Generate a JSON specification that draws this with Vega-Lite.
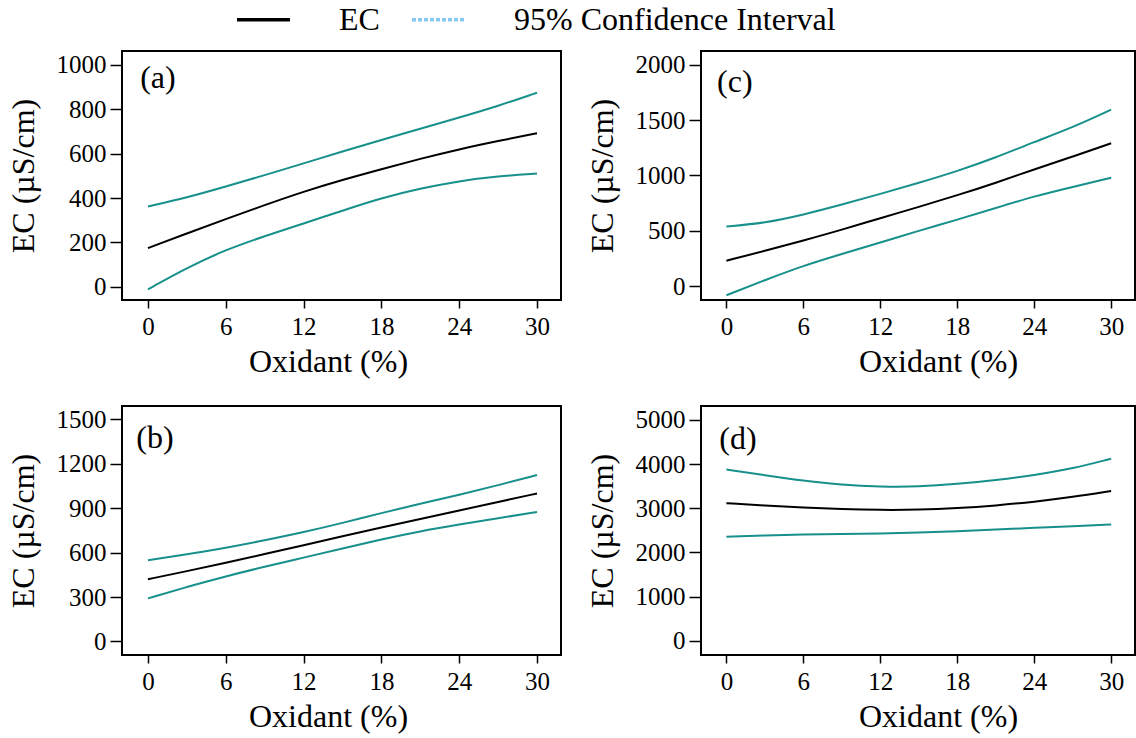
{
  "$schema": "https://vega.github.io/schema/vega-lite/v6.json",
  "background": "white",
  "padding": {"left": 6, "top": -9, "right": 2, "bottom": 2},
  "config": {
    "font": "Liberation Serif",
    "view": {"stroke": "black", "strokeWidth": 2},
    "axis": {
      "domain": false, "grid": false,
      "tickColor": "black", "tickWidth": 1.5,
      "labelFont": "Liberation Serif", "labelFontSize": 25, "labelColor": "black",
      "titleFont": "Liberation Serif", "titleFontSize": 32, "titleFontWeight": "normal", "titleColor": "black"
    },
    "axisX": {"tickSize": 8, "labelPadding": 6, "titlePadding": 7},
    "axisY": {"tickSize": 12, "labelPadding": 4, "titlePadding": 16, "format": "d"},
    "legend": {"labelFont": "Liberation Serif", "labelFontSize": 32, "labelColor": "black", "labelLimit": 600}
  },
  "datasets": {
    "a": [
      {"x": 0, "EC": 174, "lower": -12, "upper": 362},
      {"x": 3, "EC": 240, "lower": 85, "upper": 402},
      {"x": 6, "EC": 305, "lower": 167, "upper": 452},
      {"x": 9, "EC": 368, "lower": 228, "upper": 503},
      {"x": 12, "EC": 429, "lower": 285, "upper": 556},
      {"x": 15, "EC": 482, "lower": 343, "upper": 610},
      {"x": 18, "EC": 530, "lower": 400, "upper": 662},
      {"x": 21, "EC": 577, "lower": 443, "upper": 712},
      {"x": 24, "EC": 620, "lower": 477, "upper": 763},
      {"x": 27, "EC": 657, "lower": 498, "upper": 815},
      {"x": 30, "EC": 692, "lower": 510, "upper": 875}
    ],
    "b": [
      {"x": 0, "EC": 420, "lower": 291, "upper": 549},
      {"x": 3, "EC": 475, "lower": 368, "upper": 588},
      {"x": 6, "EC": 530, "lower": 440, "upper": 632},
      {"x": 9, "EC": 590, "lower": 505, "upper": 683},
      {"x": 12, "EC": 650, "lower": 566, "upper": 738},
      {"x": 15, "EC": 710, "lower": 628, "upper": 800},
      {"x": 18, "EC": 770, "lower": 690, "upper": 868},
      {"x": 21, "EC": 828, "lower": 745, "upper": 930},
      {"x": 24, "EC": 885, "lower": 790, "upper": 991},
      {"x": 27, "EC": 942, "lower": 833, "upper": 1055},
      {"x": 30, "EC": 1000, "lower": 874, "upper": 1125}
    ],
    "c": [
      {"x": 0, "EC": 230, "lower": -82, "upper": 539},
      {"x": 3, "EC": 318, "lower": 55, "upper": 570},
      {"x": 6, "EC": 412, "lower": 185, "upper": 645},
      {"x": 9, "EC": 509, "lower": 291, "upper": 736},
      {"x": 12, "EC": 615, "lower": 394, "upper": 833},
      {"x": 15, "EC": 715, "lower": 500, "upper": 933},
      {"x": 18, "EC": 821, "lower": 600, "upper": 1039},
      {"x": 21, "EC": 933, "lower": 706, "upper": 1161},
      {"x": 24, "EC": 1055, "lower": 812, "upper": 1303},
      {"x": 27, "EC": 1170, "lower": 897, "upper": 1433},
      {"x": 30, "EC": 1291, "lower": 979, "upper": 1594}
    ],
    "d": [
      {"x": 0, "EC": 3115, "lower": 2355, "upper": 3875},
      {"x": 3, "EC": 3060, "lower": 2385, "upper": 3748},
      {"x": 6, "EC": 3015, "lower": 2407, "upper": 3621},
      {"x": 9, "EC": 2980, "lower": 2418, "upper": 3525},
      {"x": 12, "EC": 2960, "lower": 2429, "upper": 3487},
      {"x": 15, "EC": 2965, "lower": 2450, "upper": 3487},
      {"x": 18, "EC": 3000, "lower": 2481, "upper": 3547},
      {"x": 21, "EC": 3060, "lower": 2518, "upper": 3636},
      {"x": 24, "EC": 3145, "lower": 2556, "upper": 3748},
      {"x": 27, "EC": 3255, "lower": 2595, "upper": 3897},
      {"x": 30, "EC": 3390, "lower": 2630, "upper": 4121}
    ],
    "legend": [
      {"item": "EC"},
      {"item": "95% Confidence Interval"}
    ],
    "one": [{}]
  },
  "columns": 2,
  "bounds": "flush",
  "spacing": {"row": 106, "column": 140},
  "concat": [
    {
      "width": 439, "height": 249,
      "layer": [
        {
          "data": {"name": "a"},
          "transform": [{"fold": ["EC", "lower", "upper"], "as": ["series", "value"]}],
          "mark": {"type": "line", "strokeWidth": 2, "interpolate": "basis"},
          "encoding": {
            "x": {"field": "x", "type": "quantitative", "scale": {"domain": [-2, 31.85], "nice": false, "zero": false}, "axis": {"values": [0, 6, 12, 18, 24, 30], "title": "Oxidant (%)", "titleX": 206}},
            "y": {"field": "value", "type": "quantitative", "scale": {"domain": [-60, 1063], "nice": false, "zero": false}, "axis": {"values": [0, 200, 400, 600, 800, 1000], "title": "EC (µS/cm)"}},
            "color": {"field": "series", "type": "nominal", "scale": {"domain": ["EC", "lower", "upper"], "range": ["black", "#17908c", "#17908c"]}, "legend": null}
          }
        },
        {
          "data": {"name": "legend"},
          "transform": [{"filter": "datum.item === 'none'"}],
          "mark": {"type": "line", "strokeWidth": 3},
          "encoding": {
            "stroke": {"field": "item", "type": "nominal", "scale": {"domain": ["EC", "95% Confidence Interval"], "range": ["black", "#86c9f0"]},
              "legend": {"orient": "none", "legendX": 113, "legendY": -60, "direction": "horizontal", "title": null,
                "symbolType": "stroke", "symbolSize": 2809, "symbolStrokeWidth": 3.5, "labelOffset": 47, "columnPadding": 25, "labelLimit": 600}},
            "strokeDash": {"field": "item", "type": "nominal", "scale": {"domain": ["EC", "95% Confidence Interval"], "range": [[1, 0], [4, 2]]},
              "legend": {"orient": "none", "legendX": 113, "legendY": -60, "direction": "horizontal", "title": null,
                "symbolType": "stroke", "symbolSize": 2809, "symbolStrokeWidth": 3.5, "labelOffset": 47, "columnPadding": 25, "labelLimit": 600}}
          }
        },
        {
          "data": {"name": "one"},
          "mark": {"type": "text", "text": "(a)", "align": "left", "baseline": "middle", "fontSize": 32, "font": "Liberation Serif", "color": "black"},
          "encoding": {"x": {"datum": -0.6}, "y": {"datum": 941}}
        }
      ]
    },
    {
      "width": 434, "height": 249,
      "layer": [
        {
          "data": {"name": "c"},
          "transform": [{"fold": ["EC", "lower", "upper"], "as": ["series", "value"]}],
          "mark": {"type": "line", "strokeWidth": 2, "interpolate": "basis"},
          "encoding": {
            "x": {"field": "x", "type": "quantitative", "scale": {"domain": [-1.98, 31.86], "nice": false, "zero": false}, "axis": {"values": [0, 6, 12, 18, 24, 30], "title": "Oxidant (%)", "titleX": 237}},
            "y": {"field": "value", "type": "quantitative", "scale": {"domain": [-125, 2124], "nice": false, "zero": false}, "axis": {"values": [0, 500, 1000, 1500, 2000], "title": "EC (µS/cm)"}},
            "color": {"field": "series", "type": "nominal", "scale": {"domain": ["EC", "lower", "upper"], "range": ["black", "#17908c", "#17908c"]}, "legend": null}
          }
        },
        {
          "data": {"name": "one"},
          "mark": {"type": "text", "text": "(c)", "align": "left", "baseline": "middle", "fontSize": 32, "font": "Liberation Serif", "color": "black"},
          "encoding": {"x": {"datum": -0.73}, "y": {"datum": 1848}}
        }
      ]
    },
    {
      "width": 439, "height": 249,
      "layer": [
        {
          "data": {"name": "b"},
          "transform": [{"fold": ["EC", "lower", "upper"], "as": ["series", "value"]}],
          "mark": {"type": "line", "strokeWidth": 2, "interpolate": "basis"},
          "encoding": {
            "x": {"field": "x", "type": "quantitative", "scale": {"domain": [-2, 31.85], "nice": false, "zero": false}, "axis": {"values": [0, 6, 12, 18, 24, 30], "title": "Oxidant (%)", "titleX": 206}},
            "y": {"field": "value", "type": "quantitative", "scale": {"domain": [-92, 1591], "nice": false, "zero": false}, "axis": {"values": [0, 300, 600, 900, 1200, 1500], "title": "EC (µS/cm)"}},
            "color": {"field": "series", "type": "nominal", "scale": {"domain": ["EC", "lower", "upper"], "range": ["black", "#17908c", "#17908c"]}, "legend": null}
          }
        },
        {
          "data": {"name": "one"},
          "mark": {"type": "text", "text": "(b)", "align": "left", "baseline": "middle", "fontSize": 32, "font": "Liberation Serif", "color": "black"},
          "encoding": {"x": {"datum": -0.9}, "y": {"datum": 1374}}
        }
      ]
    },
    {
      "width": 434, "height": 249,
      "layer": [
        {
          "data": {"name": "d"},
          "transform": [{"fold": ["EC", "lower", "upper"], "as": ["series", "value"]}],
          "mark": {"type": "line", "strokeWidth": 2, "interpolate": "basis"},
          "encoding": {
            "x": {"field": "x", "type": "quantitative", "scale": {"domain": [-1.98, 31.86], "nice": false, "zero": false}, "axis": {"values": [0, 6, 12, 18, 24, 30], "title": "Oxidant (%)", "titleX": 237}},
            "y": {"field": "value", "type": "quantitative", "scale": {"domain": [-320, 5313], "nice": false, "zero": false}, "axis": {"values": [0, 1000, 2000, 3000, 4000, 5000], "title": "EC (µS/cm)"}},
            "color": {"field": "series", "type": "nominal", "scale": {"domain": ["EC", "lower", "upper"], "range": ["black", "#17908c", "#17908c"]}, "legend": null}
          }
        },
        {
          "data": {"name": "one"},
          "mark": {"type": "text", "text": "(d)", "align": "left", "baseline": "middle", "fontSize": 32, "font": "Liberation Serif", "color": "black"},
          "encoding": {"x": {"datum": -0.55}, "y": {"datum": 4575}}
        }
      ]
    }
  ]
}
